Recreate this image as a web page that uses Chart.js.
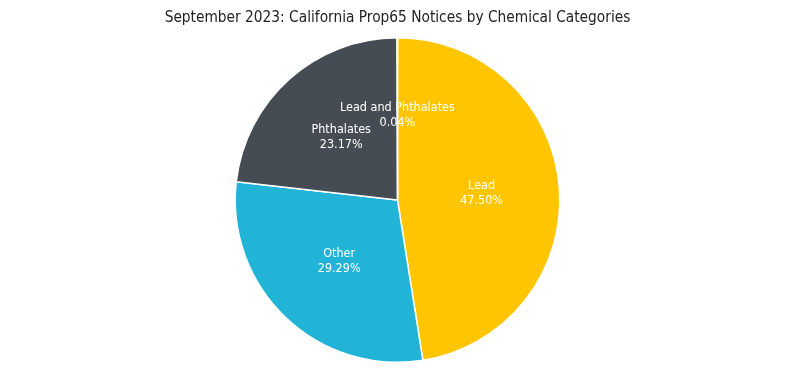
<!DOCTYPE html>
<html>
<head>
<meta charset="utf-8">
<script src="https://cdn.jsdelivr.net/npm/chart.js@4"></script>
<style>
html,body{margin:0;padding:0;background:#fff;}
#wrap{width:795px;height:371px;}
</style>
</head>
<body>
<div id="wrap"><canvas id="c" width="795" height="371"></canvas></div>
<script>
const categories = ["Lead", "Other", "Phthalates", "Lead and Phthalates"];
const shares = [47.50, 29.29, 23.17, 0.04];
const colors = ["#FFC600", "#22B4D7", "#464C53", "#F2A900"];
const titleText = "September 2023: California Prop65 Notices by Chemical Categories";

const labelPlugin = {
  id: 'sliceLabels',
  afterDatasetsDraw(chart) {
    const ctx = chart.ctx;
    const meta = chart.getDatasetMeta(0);
    ctx.save();
    ctx.fillStyle = '#ffffff';
    ctx.textAlign = 'center';
    ctx.textBaseline = 'middle';
    ctx.font = '12.5px "Liberation Sans Narrow", "DejaVu Sans Condensed", sans-serif';
    meta.data.forEach((arc, i) => {
      const p = arc.getProps(['x','y','startAngle','endAngle','outerRadius'], true);
      const mid = (p.startAngle + p.endAngle) / 2;
      const r = p.outerRadius * 0.52;
      const cx = p.x + Math.cos(mid) * r;
      const cy = p.y + Math.sin(mid) * r;
      ctx.fillText(categories[i], cx, cy - 7.5);
      ctx.fillText(shares[i].toFixed(2) + '%', cx, cy + 7.5);
    });
    ctx.restore();
  }
};

new Chart(document.getElementById('c'), {
  type: 'pie',
  data: {
    labels: categories,
    datasets: [{
      data: shares,
      backgroundColor: colors,
      borderColor: '#ffffff',
      borderWidth: 1.5
    }]
  },
  options: {
    responsive: false,
    animation: false,
    layout: { padding: { top: 0, bottom: 8, left: 0, right: 0 } },
    plugins: {
      legend: { display: false },
      tooltip: { enabled: false },
      title: {
        display: true,
        text: titleText,
        color: '#222222',
        font: { size: 15.3, weight: 'normal', family: '"Liberation Sans Narrow", "DejaVu Sans Condensed", sans-serif', lineHeight: 1.2 },
        padding: { top: 9, bottom: 9.6 }
      }
    }
  },
  plugins: [labelPlugin]
});
</script>
</body>
</html>
